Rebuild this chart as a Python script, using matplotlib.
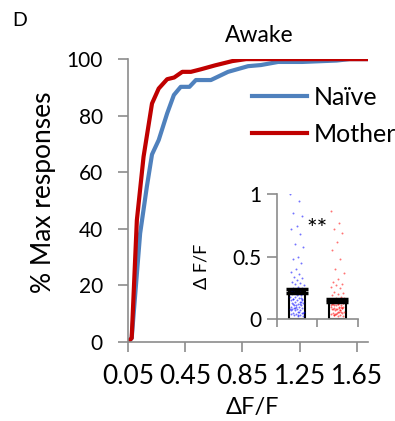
import numpy as np
import matplotlib.pyplot as plt

plt.rcParams['font.family'] = ['Lato', 'DejaVu Sans']

# cumulative distributions (dF/F bin, % max responses)
naive_x = [0.05, 0.076, 0.135, 0.182, 0.218, 0.265, 0.324, 0.371, 0.419, 0.48,
           0.525, 0.63, 0.75, 0.89, 0.98, 1.10, 1.27, 1.51, 1.60, 1.73]
naive_y = [0, 1.4, 38.4, 54.9, 66.3, 71.4, 80.8, 87.3, 90.2, 90.2,
           92.6, 92.6, 95.5, 97.5, 97.9, 99.0, 99.0, 99.5, 100, 100]
mother_x = [0.05, 0.076, 0.112, 0.159, 0.218, 0.265, 0.324, 0.373, 0.43, 0.49,
            0.56, 0.66, 0.78, 0.876, 1.2, 1.73]
mother_y = [0, 1.4, 43.0, 65.5, 84.3, 89.6, 92.9, 93.5, 95.5, 95.5,
            96.4, 97.8, 99.3, 100, 100, 100]

x_ticks = [0.05, 0.45, 0.85, 1.25, 1.65]
y_ticks = [0, 20, 40, 60, 80, 100]

# inset: mean +- sem and individual responses
groups = ['Naïve', 'Mother']
means = [0.225, 0.15]
sems = [0.015, 0.01]
naive_pts = [1.0, 0.95, 0.85, 0.83, 0.75, 0.72, 0.68, 0.60, 0.58, 0.50, 0.48, 0.45,
             0.40, 0.38, 0.36, 0.34, 0.33, 0.31, 0.30, 0.29, 0.28, 0.27, 0.26, 0.25,
             0.25, 0.24, 0.23, 0.22, 0.22, 0.21, 0.20, 0.20, 0.19, 0.18, 0.18, 0.17,
             0.16, 0.16, 0.15, 0.15, 0.14, 0.14, 0.13, 0.12, 0.12, 0.11, 0.11, 0.10,
             0.10, 0.09, 0.09, 0.08, 0.08, 0.07, 0.07, 0.06, 0.06, 0.05, 0.05, 0.04,
             0.04, 0.03, 0.03, 0.02, 0.02, 0.13, 0.17, 0.21, 0.08, 0.06, 0.11, 0.15,
             0.19, 0.23, 0.12, 0.09, 0.05, 0.03, 0.16, 0.14, 0.10, 0.07]
mother_pts = [0.87, 0.77, 0.72, 0.69, 0.62, 0.55, 0.48, 0.40, 0.37, 0.32, 0.30, 0.28,
              0.27, 0.26, 0.25, 0.22, 0.21, 0.20, 0.19, 0.18, 0.17, 0.17, 0.16, 0.16,
              0.15, 0.15, 0.14, 0.14, 0.13, 0.13, 0.12, 0.12, 0.11, 0.11, 0.10, 0.10,
              0.09, 0.09, 0.08, 0.08, 0.07, 0.07, 0.06, 0.06, 0.05, 0.05, 0.04, 0.04,
              0.03, 0.03, 0.02, 0.02, 0.12, 0.10, 0.08, 0.14, 0.06, 0.11, 0.09, 0.05,
              0.13, 0.07, 0.04, 0.10, 0.12, 0.08, 0.06, 0.15, 0.11, 0.09, 0.03, 0.13]

blue = '#4F81BD'
red = '#C00000'
grey = '#8C8C8C'

fig = plt.figure(figsize=(3.95, 4.21), dpi=100)
ax = fig.add_axes([0.324, 0.1876, 0.608, 0.672])
ax.plot(naive_x, naive_y, color=blue, lw=3, label='Naïve', solid_joinstyle='round')
ax.plot(mother_x, mother_y, color=red, lw=3, label='Mother', solid_joinstyle='round')
ax.set_xlim(0.05, 1.73)
ax.set_ylim(0, 100)
ax.set_xticks(x_ticks)
ax.set_xticklabels(['%.2f' % v for v in x_ticks])
ax.set_yticks(y_ticks)
for s in ['top', 'right']:
    ax.spines[s].set_visible(False)
for s in ['left', 'bottom']:
    ax.spines[s].set_color(grey)
    ax.spines[s].set_linewidth(1.2)
ax.tick_params(colors=grey, labelcolor='black', length=7, width=1.2)
ax.tick_params(axis='y', labelsize=15, pad=11)
ax.tick_params(axis='x', labelsize=19, pad=9)
ax.set_ylabel('% Max responses', fontsize=19, va='center')
ax.yaxis.set_label_coords(-0.352, 0.53)
ax.set_xlabel('ΔF/F', fontsize=17, va='center')
ax.xaxis.set_label_coords(0.52, -0.233)
fig.text(259 / 395, 1 - 35 / 421, 'Awake', fontsize=16.5, ha='center', va='center')
fig.text(12 / 395, 1 - 21 / 421, 'D', fontsize=14, va='center')
fig.legend(*ax.get_legend_handles_labels(), loc='upper left',
           bbox_to_anchor=(252 / 395, 1 - 86 / 421), frameon=False, fontsize=18,
           handlelength=2.2, handletextpad=0.25, labelspacing=0.55, borderpad=0,
           borderaxespad=0)

# inset
ins = fig.add_axes([0.7005, 0.2423, 0.205, 0.296])
pos = np.arange(len(groups))
ins.bar(pos, means, width=0.41, color='white', edgecolor='black', lw=1.5, zorder=1)
for i, pts in enumerate([naive_pts, mother_pts]):
    k = np.arange(len(pts))
    jitter = ((k * 0.618034) % 1 - 0.5) * 0.34
    ins.scatter(pos[i] + jitter, pts, s=2, color=['#0000FF', '#FF0000'][i],
                alpha=0.55, lw=0, zorder=2)
ins.errorbar(pos, means, yerr=sems, fmt='none', ecolor='black', elinewidth=3,
             capsize=8, capthick=2.5, zorder=3)
ins.text(0.5, 0.72, '**', ha='center', va='center', fontsize=18)
ins.set_xlim(-0.5, 1.5)
ins.set_ylim(0, 1)
ins.set_xticks([-0.5, 0.5, 1.5])
ins.set_xticklabels([])
ins.set_yticks([0, 0.5, 1])
ins.set_yticklabels(['0', '0.5', '1'])
for s in ['top', 'right']:
    ins.spines[s].set_visible(False)
for s in ['left', 'bottom']:
    ins.spines[s].set_color(grey)
    ins.spines[s].set_linewidth(1.2)
ins.patch.set_alpha(0)
ins.tick_params(colors=grey, labelcolor='black', labelsize=15, width=1.2)
ins.tick_params(axis='y', length=7, pad=4)
ins.tick_params(axis='x', length=6)
ins.set_ylabel('Δ F/F', fontsize=13, va='center')
ins.yaxis.set_label_coords(-0.93, 0.425)

fig.savefig('out.png', dpi=100)
